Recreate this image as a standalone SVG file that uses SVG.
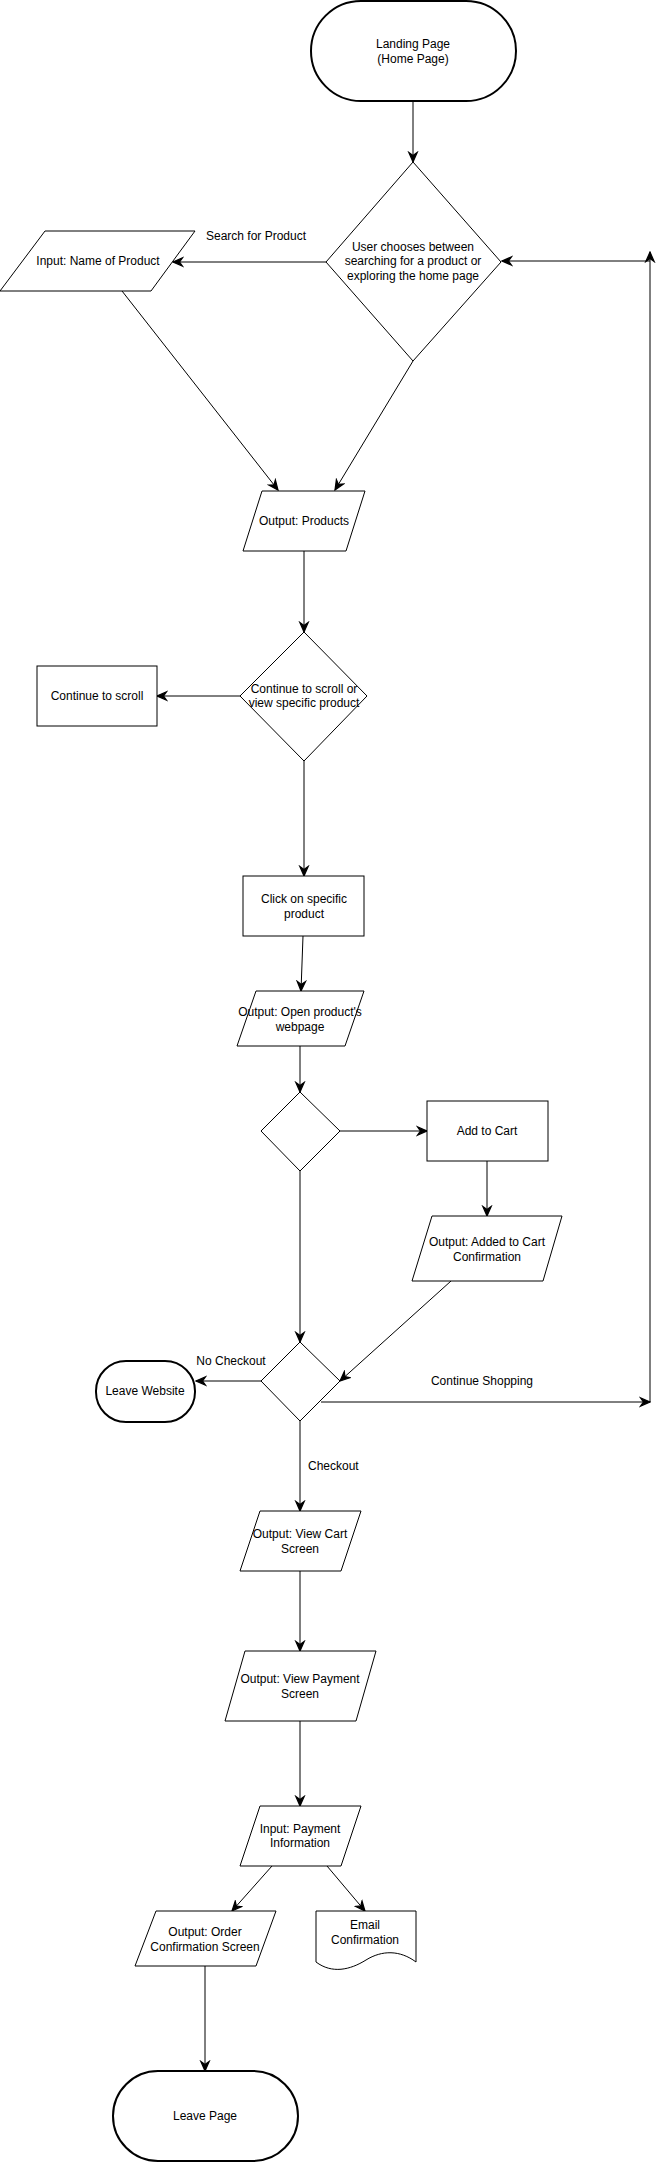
<svg xmlns="http://www.w3.org/2000/svg" width="661" height="2162" viewBox="0 0 661 2162">
<style>
.s{fill:#fff;stroke:#000;stroke-width:1}
.t{fill:#fff;stroke:#000;stroke-width:2}
text{font-family:"Liberation Sans",Arial,Helvetica,sans-serif;font-size:12px;fill:#000;text-anchor:middle}
.l{text-anchor:start}
.c{fill:none;stroke:#000;stroke-width:1}
</style>
<defs>
<marker id="a" markerUnits="userSpaceOnUse" markerWidth="12" markerHeight="12" viewBox="0 0 10 9" refX="9" refY="4.5" orient="auto">
<path d="M1,1 L9,4.5 L1,8 L3.5,4.5 Z" fill="#000" stroke="#000" stroke-width="1"/>
</marker>
</defs>
<rect width="661" height="2162" fill="#fff"/>
<g id="connectors">
<line class="c" x1="413" y1="101" x2="413" y2="162" marker-end="url(#a)"/>
<line class="c" x1="326" y1="262" x2="173" y2="262" marker-end="url(#a)"/>
<line class="c" x1="122" y1="291" x2="278" y2="490" marker-end="url(#a)"/>
<line class="c" x1="413" y1="361" x2="335" y2="490" marker-end="url(#a)"/>
<line class="c" x1="304" y1="551" x2="304" y2="632" marker-end="url(#a)"/>
<line class="c" x1="240" y1="696" x2="157" y2="696" marker-end="url(#a)"/>
<line class="c" x1="304" y1="761" x2="304" y2="876" marker-end="url(#a)"/>
<line class="c" x1="303" y1="936" x2="301" y2="991" marker-end="url(#a)"/>
<line class="c" x1="300" y1="1046" x2="300" y2="1092" marker-end="url(#a)"/>
<line class="c" x1="340" y1="1131" x2="427" y2="1131" marker-end="url(#a)"/>
<line class="c" x1="487" y1="1161" x2="487" y2="1216" marker-end="url(#a)"/>
<line class="c" x1="451" y1="1281" x2="340" y2="1381" marker-end="url(#a)"/>
<line class="c" x1="300" y1="1171" x2="300" y2="1342" marker-end="url(#a)"/>
<line class="c" x1="261" y1="1381" x2="196" y2="1381" marker-end="url(#a)"/>
<line class="c" x1="321" y1="1402" x2="650" y2="1402" marker-end="url(#a)"/>
<line class="c" x1="650" y1="1402" x2="650" y2="252" marker-end="url(#a)"/>
<line class="c" x1="650" y1="261" x2="502" y2="261" marker-end="url(#a)"/>
<line class="c" x1="300" y1="1421" x2="300" y2="1511" marker-end="url(#a)"/>
<line class="c" x1="300" y1="1571" x2="300" y2="1651" marker-end="url(#a)"/>
<line class="c" x1="300" y1="1721" x2="300" y2="1806" marker-end="url(#a)"/>
<line class="c" x1="272" y1="1866" x2="232" y2="1911" stroke-width="2" marker-end="url(#a)"/>
<line class="c" x1="327" y1="1866" x2="365" y2="1911" marker-end="url(#a)"/>
<line class="c" x1="205" y1="1966" x2="205" y2="2071" marker-end="url(#a)"/>
<text x="256" y="240">Search for Product</text>
<text x="231" y="1365">No Checkout</text>
<text x="482" y="1385">Continue Shopping</text>
<text class="l" x="308" y="1470">Checkout</text>
</g>
<g id="landing">
<rect class="t" x="311" y="1" width="205" height="100" rx="50" ry="50"/>
<text x="413" y="48">Landing Page</text>
<text x="413" y="63">(Home Page)</text>
</g>
<g id="choice1">
<polygon class="s" points="413,162 501,262 413,361 326,262"/>
<text x="413" y="251">User chooses between</text>
<text x="413" y="265">searching for a product or</text>
<text x="413" y="280">exploring the home page</text>
</g>
<g id="input-name">
<polygon class="s" points="45,231 195,231 151,291 0,291"/>
<text x="98" y="265">Input: Name of Product</text>
</g>
<g id="output-products">
<polygon class="s" points="262,491 365,491 346,551 243,551"/>
<text x="304" y="525">Output: Products</text>
</g>
<g id="choice2">
<polygon class="s" points="304,632 367,696 304,761 240,696"/>
<text x="304" y="693">Continue to scroll or</text>
<text x="304" y="707">view specific product</text>
</g>
<g id="scroll">
<rect class="s" x="37" y="666" width="120" height="60"/>
<text x="97" y="700">Continue to scroll</text>
</g>
<g id="click">
<rect class="s" x="243" y="876" width="121" height="60"/>
<text x="304" y="903">Click on specific</text>
<text x="304" y="918">product</text>
</g>
<g id="open-page">
<polygon class="s" points="256,991 364,991 345,1046 237,1046"/>
<text x="300" y="1016">Output: Open product's</text>
<text x="300" y="1031">webpage</text>
</g>
<g id="choice3">
<polygon class="s" points="300,1092 340,1131 300,1171 261,1131"/>
</g>
<g id="add-cart">
<rect class="s" x="427" y="1101" width="121" height="60"/>
<text x="487" y="1135">Add to Cart</text>
</g>
<g id="added-confirm">
<polygon class="s" points="432,1216 562,1216 543,1281 412,1281"/>
<text x="487" y="1246">Output: Added to Cart</text>
<text x="487" y="1261">Confirmation</text>
</g>
<g id="choice4">
<polygon class="s" points="300,1342 340,1381 300,1421 261,1381"/>
</g>
<g id="leave-website">
<rect class="t" x="96" y="1361" width="99" height="61" rx="30" ry="30"/>
<text x="145" y="1395">Leave Website</text>
</g>
<g id="view-cart">
<polygon class="s" points="260,1511 361,1511 341,1571 240,1571"/>
<text x="300" y="1538">Output: View Cart</text>
<text x="300" y="1553">Screen</text>
</g>
<g id="view-payment">
<polygon class="s" points="245,1651 376,1651 356,1721 225,1721"/>
<text x="300" y="1683">Output: View Payment</text>
<text x="300" y="1698">Screen</text>
</g>
<g id="payment-info">
<polygon class="s" points="260,1806 361,1806 341,1866 240,1866"/>
<text x="300" y="1833">Input: Payment</text>
<text x="300" y="1847">Information</text>
</g>
<g id="order-confirm">
<polygon class="s" points="156,1911 276,1911 256,1966 135,1966"/>
<text x="205" y="1936">Output: Order</text>
<text x="205" y="1951">Confirmation Screen</text>
</g>
<g id="email">
<path class="s" d="M316,1911 H416 V1962 C400,1950 382,1950 366,1960 C350,1970 332,1974 316,1962 Z"/>
<text x="365" y="1929">Email</text>
<text x="365" y="1944">Confirmation</text>
</g>
<g id="leave-page">
<rect class="t" x="113" y="2071" width="185" height="90" rx="45" ry="45"/>
<text x="205" y="2120">Leave Page</text>
</g>
</svg>
